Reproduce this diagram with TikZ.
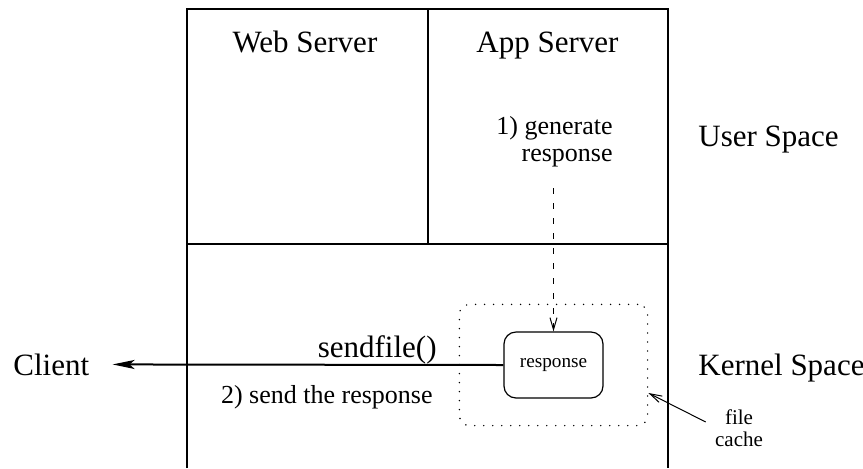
\documentclass[tikz,border=0pt]{standalone}
\usepackage{fontspec}
\setmainfont{Liberation Serif}
\usetikzlibrary{arrows.meta,positioning,fit}

\begin{document}
\begin{tikzpicture}[x=0.5pt,y=-0.5pt,
   big/.style={font=\fontsize{15.5}{18}\selectfont,inner sep=0pt},
   mid/.style={font=\fontsize{13}{13.5}\selectfont,inner sep=0pt,align=right},
   small/.style={font=\fontsize{10.5}{11}\selectfont,inner sep=0pt,align=center},
   frame/.style={line width=0.6pt},
   respbox/.style={draw,line width=0.6pt,rounded corners=6pt,minimum width=49.5pt,
                   minimum height=33pt,font=\fontsize{9.6}{11}\selectfont},
   cachebox/.style={draw,line width=0.8pt,line cap=round,dash pattern=on 0pt off 4.5pt,
                    rounded corners=5pt,inner xsep=22pt,inner ysep=13.5pt},
   sendarrow/.style={-{Stealth[length=11pt,width=4.5pt,inset=2.5pt]},line width=1pt},
   thinarrow/.style={-{Straight Barb[length=6pt,width=3.5pt]},line width=0.5pt}]
  \useasboundingbox (0,0) rectangle (863,468);

  % user / kernel frame
  \draw[frame] (187,468) -- (187,9) -- (668,9) -- (668,468);
  \draw[frame] (187,244) -- (668,244);
  \draw[frame] (428,9) -- (428,244);

  \node[big,anchor=base] (web) at (305,52) {Web Server};
  \node[big,anchor=base] (app) at (547.5,52) {App Server};
  \node[big,anchor=base west] (user) at (698,146) {User Space};
  \node[big,anchor=base west] (kernel) at (698,375) {Kernel Space};
  \node[mid,anchor=east] (gen) at (613,142) {1) generate\\response};

  % response in the file cache
  \node[respbox] (resp) at (553.5,365) {response};
  \node[cachebox,fit=(resp)] (cache) {};
  \node[small] (fc) at (739,428) {file\\cache};
  \coordinate (dashtop) at (553.5,188);
  \draw[thinarrow,dash pattern=on 3pt off 4.5pt] (dashtop) -- (resp.north);
  \draw[thinarrow] ([xshift=-4.5pt,yshift=3pt]fc.west) -- ([yshift=-14pt]cache.east);

  % sendfile to client
  \node[big,anchor=base west] (client) at (13,375) {Client};
  \draw[sendarrow,shorten >=11.5pt] (resp.west) -- (client.east);
  \node[big,anchor=base east] (send) at (437,357) {sendfile()};
  \node[mid,anchor=base east] (step2) at (433,403) {2) send the response};
\end{tikzpicture}
\end{document}
